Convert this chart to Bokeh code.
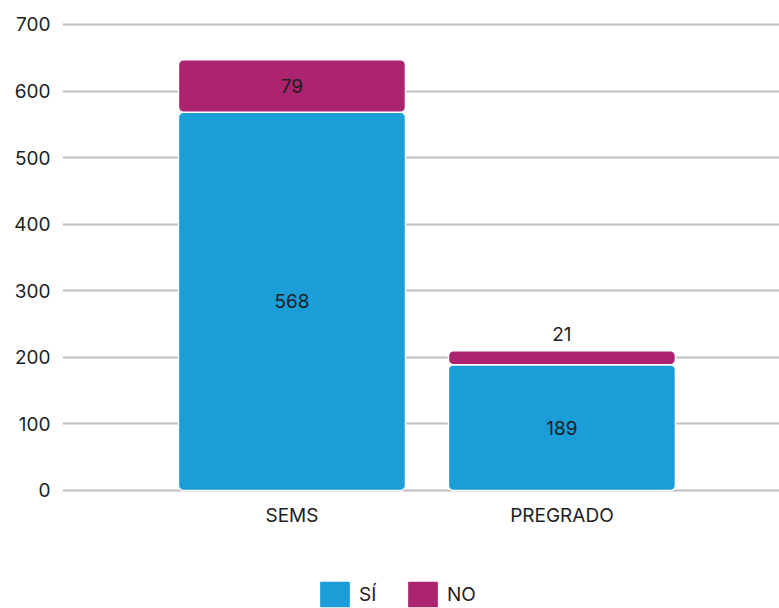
from bokeh.plotting import figure
from bokeh.models import Range1d, FixedTicker, ColumnDataSource, Legend, LegendItem
from bokeh.core.properties import value
from bokeh.embed import file_html
from bokeh.resources import INLINE

categories = ["SEMS", "PREGRADO"]
si_values = [568, 189]
no_values = [79, 21]
y_ticks = [0, 100, 200, 300, 400, 500, 600, 700]
series_names = ["SÍ", "NO"]

BLUE = "#1B9DD7"
MAGENTA = "#AC2470"
FONT = "Inter"
TEXT = "#1e1e1e"

xs = list(range(len(categories)))
src = ColumnDataSource(dict(x=xs, si=si_values, no=no_values, cat=categories))

# frame spans the full height so the legend (drawn in the frame) is not clipped
p = figure(width=779, height=608, output_backend="svg", toolbar_location=None,
           x_range=Range1d(-0.85, 1.806), y_range=Range1d(-177.3, 706),
           x_axis_location=None,
           min_border_left=62, min_border_right=0, min_border_top=20, min_border_bottom=0)
p.outline_line_color = None
p.background_fill_color = "white"
p.border_fill_color = "white"

r = p.vbar_stack(["si", "no"], x="x", width=0.841, source=src,
                 color=[BLUE, MAGENTA], line_color="white", line_width=1.5,
                 border_radius=5)

# data labels
lx, ly, lt, lb, loff = [], [], [], [], []
for i, (s, n) in enumerate(zip(si_values, no_values)):
    lx.append(xs[i]); ly.append(s / 2); lt.append(str(s)); lb.append("middle"); loff.append(0)
    if n >= 40:
        lx.append(xs[i]); ly.append(s + n / 2); lt.append(str(n)); lb.append("middle"); loff.append(0)
    else:
        lx.append(xs[i]); ly.append(s + n); lt.append(str(n)); lb.append("bottom"); loff.append(-10)
lsrc = ColumnDataSource(dict(x=lx, y=ly, t=lt, b=lb, off=loff))
p.text(x="x", y="y", text="t", source=lsrc, text_align="center", text_baseline="b",
       y_offset="off", text_font=value(FONT), text_font_size="19px", text_color=TEXT)

# category labels under the bars
p.text(x="x", y=0, text="cat", source=src, text_align="center", text_baseline="middle",
       y_offset=25, text_font=value(FONT), text_font_size="19px", text_color=TEXT)

# y axis
p.yaxis.ticker = FixedTicker(ticks=y_ticks)
p.yaxis.axis_line_color = None
p.yaxis.major_tick_line_color = None
p.yaxis.major_tick_out = 0
p.yaxis.minor_tick_line_color = None
p.yaxis.major_label_standoff = 12
p.yaxis.major_label_text_font = FONT
p.yaxis.major_label_text_font_size = "19px"
p.yaxis.major_label_text_color = TEXT

p.xgrid.grid_line_color = None
p.ygrid.ticker = FixedTicker(ticks=y_ticks)
p.ygrid.grid_line_color = "#BCC0C0"
p.ygrid.grid_line_width = 2

legend = Legend(items=[LegendItem(label=series_names[0], renderers=[r[0]]),
                       LegendItem(label=series_names[1], renderers=[r[1]])],
                location=(253, -3), orientation="horizontal",
                glyph_width=39, glyph_height=34, label_standoff=5, spacing=24,
                padding=0, margin=0, border_line_color=None, background_fill_alpha=0,
                label_text_font=FONT, label_text_font_size="19px", label_text_color=TEXT)
p.add_layout(legend, "center")

open("out.html", "w").write(file_html(p, INLINE))
